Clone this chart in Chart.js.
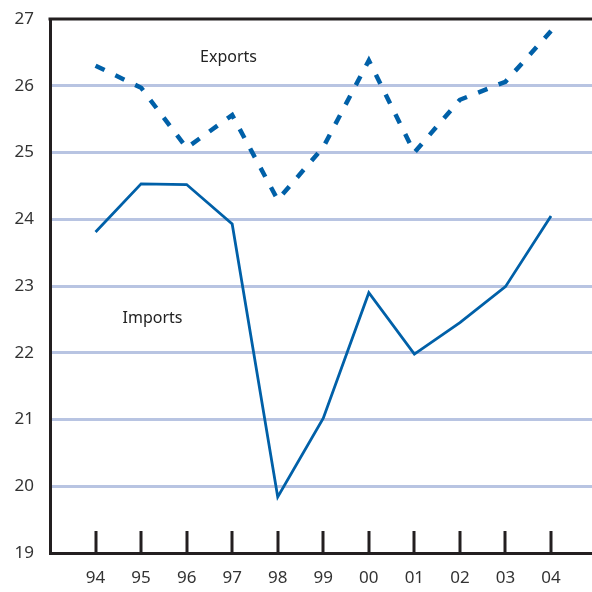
<!DOCTYPE html>
<html>
<head>
<meta charset="utf-8">
<script src="https://cdn.jsdelivr.net/npm/chart.js@4/dist/chart.umd.min.js"></script>
<style>
  html, body { margin: 0; padding: 0; background: #fff; }
  #wrap { width: 592px; height: 592px; position: relative; }
</style>
</head>
<body>
<div id="wrap"><canvas id="myChart" width="592" height="592"></canvas></div>
<script>
var years = ["94", "95", "96", "97", "98", "99", "00", "01", "02", "03", "04"];
var exportsValues = [26.30, 25.97, 25.07, 25.56, 24.29, 25.08, 26.38, 25.00, 25.79, 26.06, 26.82];
var importsValues = [23.81, 24.53, 24.52, 23.93, 19.84, 21.02, 22.90, 21.98, 22.45, 22.99, 24.05];
var yTicks = [19, 20, 21, 22, 23, 24, 25, 26, 27];

var blue = "#0060a8";
var dark = "#231f20";
var gridBlue = "#b8c4e2";

function toPoints(vals) {
  return vals.map(function (v, i) { return { x: i, y: v }; });
}

// tick marks pointing up from the x axis, the top border and the two series labels
var extras = {
  id: "extras",
  afterDraw: function (chart) {
    var c = chart.ctx, a = chart.chartArea;
    var xs = chart.scales.x, ys = chart.scales.y;
    c.save();
    c.strokeStyle = dark;
    c.lineWidth = 3;
    years.forEach(function (y, i) {
      var px = Math.round(xs.getPixelForValue(i));
      c.beginPath();
      c.moveTo(px, a.bottom);
      c.lineTo(px, a.bottom - 22);
      c.stroke();
    });
    c.beginPath();
    c.moveTo(a.left - 1.5, a.top);
    c.lineTo(a.right, a.top);
    c.stroke();

    c.fillStyle = "#222";
    c.font = "16px 'Noto Sans'";
    c.textAlign = "center";
    c.textBaseline = "middle";
    c.fillText("Exports", xs.getPixelForValue(2.92), ys.getPixelForValue(26.42));
    c.fillText("Imports", xs.getPixelForValue(1.25), ys.getPixelForValue(22.52));
    c.restore();
  }
};

new Chart(document.getElementById("myChart"), {
  type: "line",
  data: {
    datasets: [{
      label: "Exports",
      data: toPoints(exportsValues),
      borderColor: blue,
      borderWidth: 4.5,
      borderDash: [10, 12],
      borderCapStyle: "butt",
      pointRadius: 0,
      tension: 0,
      fill: false
    }, {
      label: "Imports",
      data: toPoints(importsValues),
      borderColor: blue,
      borderWidth: 2.8,
      pointRadius: 0,
      tension: 0,
      fill: false
    }]
  },
  plugins: [extras],
  options: {
    responsive: false,
    animation: false,
    layout: { padding: { top: 19, right: 0, left: 0, bottom: 0 } },
    plugins: { legend: { display: false }, tooltip: { enabled: false } },
    scales: {
      x: {
        type: "linear",
        min: -1,
        max: 10.9,
        afterBuildTicks: function (scale) {
          scale.ticks = years.map(function (y, i) { return { value: i }; });
        },
        afterFit: function (scale) {
          scale.height = 39;
          scale.paddingLeft = 0;
          scale.paddingRight = 0;
        },
        grid: { display: false, drawTicks: false },
        border: { display: true, color: dark, width: 3 },
        ticks: {
          autoSkip: false,
          maxRotation: 0,
          padding: 15,
          color: "#333",
          font: { family: "'Noto Sans'", size: 17 },
          callback: function (v) { return years[v]; }
        }
      },
      y: {
        min: 19,
        max: 27,
        afterBuildTicks: function (scale) {
          scale.ticks = yTicks.map(function (v) { return { value: v }; });
        },
        afterFit: function (scale) {
          scale.width = 50;
          scale.paddingTop = 0;
          scale.paddingBottom = 0;
        },
        grid: {
          drawTicks: false,
          lineWidth: 3,
          color: function (ctx) {
            var v = ctx.tick && ctx.tick.value;
            return (v === 19 || v === 27) ? "rgba(0,0,0,0)" : gridBlue;
          }
        },
        border: { display: true, color: dark, width: 3 },
        ticks: {
          padding: 16,
          color: "#333",
          font: { family: "'Noto Sans'", size: 17 }
        }
      }
    }
  }
});
</script>
</body>
</html>
